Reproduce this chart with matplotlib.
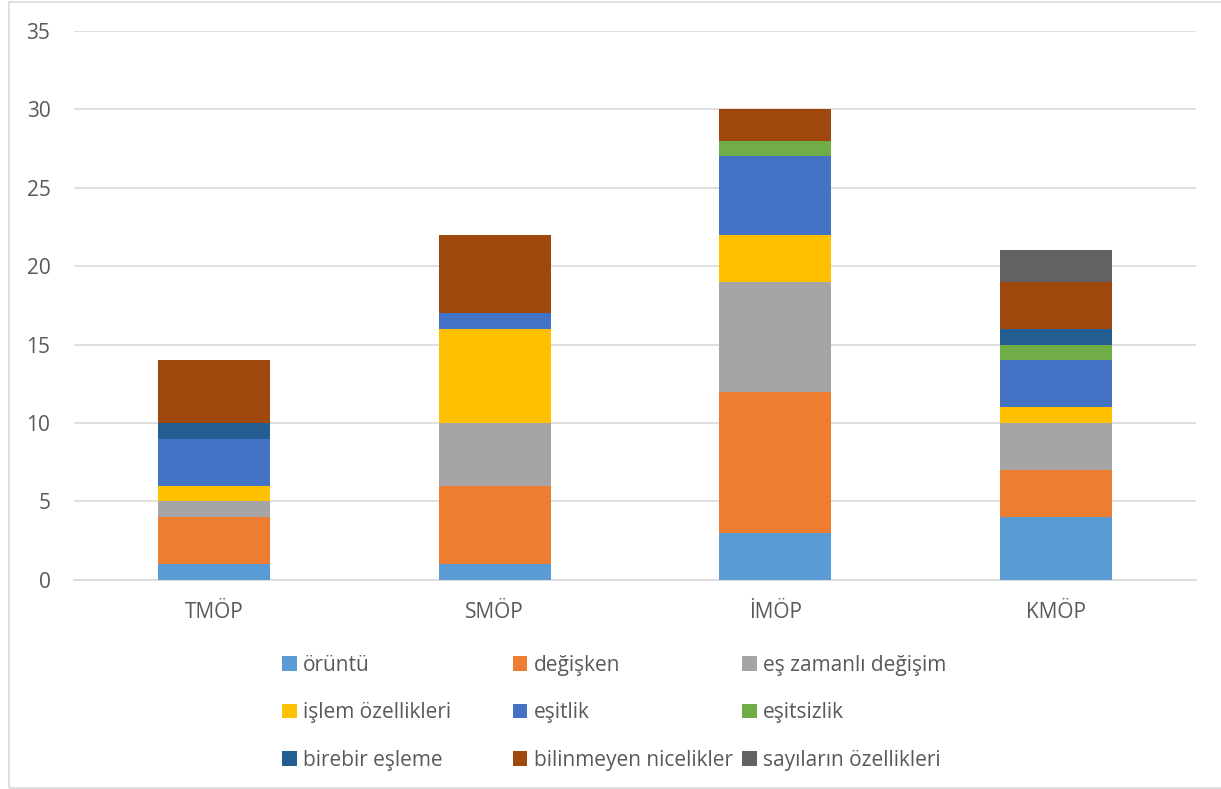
import matplotlib.pyplot as plt
from matplotlib.patches import Rectangle, Patch

plt.rcParams['font.family'] = ['Open Sans', 'DejaVu Sans']

categories = ["TMÖP", "SMÖP", "İMÖP", "KMÖP"]
series_names = ["örüntü", "değişken", "eş zamanlı değişim", "işlem özellikleri",
                "eşitlik", "eşitsizlik", "birebir eşleme", "bilinmeyen nicelikler",
                "sayıların özellikleri"]
oruntu = [1, 1, 3, 4]
degisken = [3, 5, 9, 3]
es_zamanli = [1, 4, 7, 3]
islem = [1, 6, 3, 1]
esitlik = [3, 1, 5, 3]
esitsizlik = [0, 0, 1, 1]
birebir = [1, 0, 0, 1]
bilinmeyen = [4, 5, 2, 3]
sayilar = [0, 0, 0, 2]
y_ticks = [0, 5, 10, 15, 20, 25, 30, 35]

series = [oruntu, degisken, es_zamanli, islem, esitlik, esitsizlik, birebir, bilinmeyen, sayilar]
colors = ["#5B9BD5", "#ED7D31", "#A5A5A5", "#FFC000", "#4472C4",
          "#70AD47", "#255E91", "#9E480E", "#636363"]
text_col = "#595959"

fig = plt.figure(figsize=(12.21, 7.89), dpi=100)
ax = fig.add_axes([0.0606, 0.265, 0.919, 0.696])

x = range(len(categories))
bottom = [0] * len(categories)
for vals, col in zip(series, colors):
    ax.bar(x, vals, width=0.4, bottom=bottom, color=col, zorder=3)
    bottom = [b + v for b, v in zip(bottom, vals)]

ax.set_xlim(-0.5, len(categories) - 0.5)
ax.set_ylim(0, 35)
ax.set_yticks(y_ticks)
ax.set_xticks(list(x))
ax.set_xticklabels(categories)
ax.grid(axis='y', color="#D9D9D9", linewidth=1.2, zorder=0)
for s in ['top', 'right', 'left']:
    ax.spines[s].set_visible(False)
ax.spines['bottom'].set_color("#D9D9D9")
ax.spines['bottom'].set_linewidth(1.2)
ax.tick_params(axis='both', length=0, labelsize=15, colors=text_col)
ax.tick_params(axis='y', pad=17)
ax.tick_params(axis='x', pad=16)

# legend, three fixed-width columns like Excel
handles = [Patch(facecolor=c) for c in colors]
col_x = [0.231, 0.420, 0.608]
for i in range(3):
    idx = [i, i + 3, i + 6]
    leg = fig.legend([handles[j] for j in idx], [series_names[j] for j in idx],
                     loc='upper left', bbox_to_anchor=(col_x[i], 0.170), ncol=1,
                     frameon=False, fontsize=15, handlelength=0.7, handleheight=0.7,
                     handletextpad=0.3, labelspacing=1.27, borderaxespad=0, borderpad=0)
    for t in leg.get_texts():
        t.set_color(text_col)

fig.patches.append(Rectangle((0.007, 0.001), 1.0, 0.996, transform=fig.transFigure,
                             fill=False, edgecolor="#D9D9D9", linewidth=1.2))

fig.savefig("out.png", dpi=100)
